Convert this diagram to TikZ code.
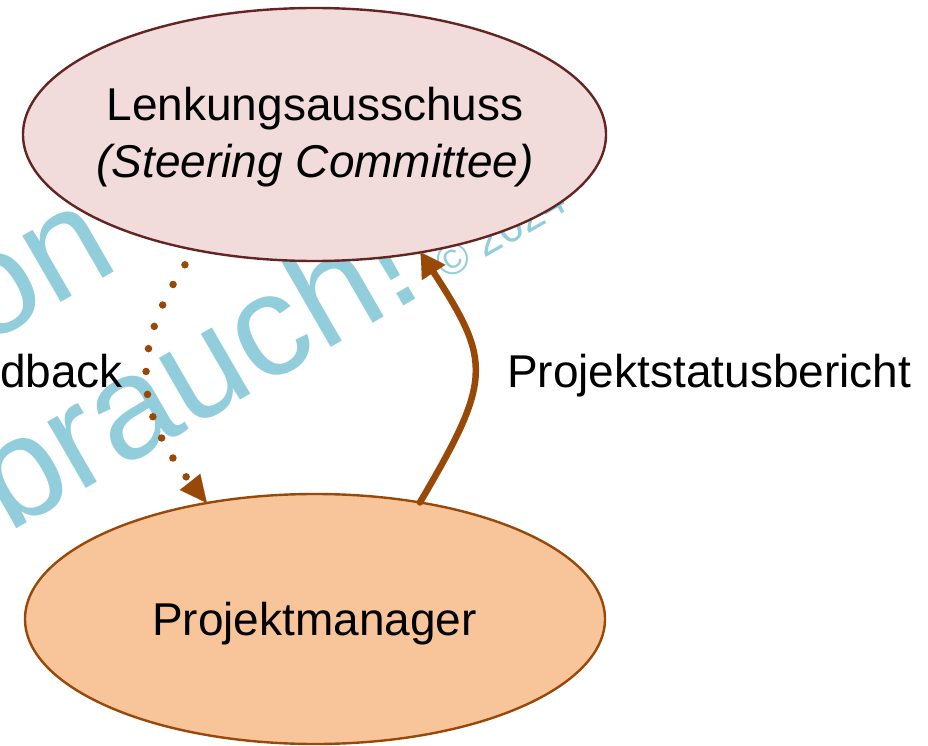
\documentclass[tikz,border=0pt]{standalone}
\usepackage{fontspec}
\setmainfont{Liberation Sans}
\usetikzlibrary{arrows.meta,shapes.geometric}
\definecolor{topfill}{HTML}{F2DCDB}
\definecolor{topline}{HTML}{632523}
\definecolor{botfill}{HTML}{F8C59A}
\definecolor{botline}{HTML}{984807}
\definecolor{arrowc}{HTML}{984807}
\definecolor{wmark}{HTML}{92CDDC}
\begin{document}
\begin{tikzpicture}[x=1pt,y=-1pt,
  ell/.style={ellipse, draw, line width=2.4pt, inner sep=0pt, outer sep=0pt},
  lbl/.style={inner sep=0pt, font=\fontsize{46}{57}\selectfont, anchor=base},
  wm/.style={inner sep=0pt, anchor=base west, rotate=30, text=wmark},
  wmbig/.style={wm, font=\fontsize{145}{174}\selectfont},
  wmsmall/.style={wm, font=\fontsize{44}{53}\selectfont},
  dotconn/.style={draw=arrowc, line width=7.5pt, line cap=round, dash pattern=on 0pt off 23pt, dash phase=5pt, -{Triangle[length=27pt,width=26pt,line width=0.1pt]}},
  solidconn/.style={draw=arrowc, line width=6.5pt, line cap=round, -{Triangle[length=24pt,width=28pt,line width=0.1pt]}}
]
\useasboundingbox (0,0) rectangle (928,746);
\clip (0,0) rectangle (928,746);
% watermark
\node[wmbig] (wm1) at (-17.5,347.8) {on};
\node[wmbig] (wm2) at (8,534) {brauch!};
\node[wmsmall] (wm3) at (446,281) {© 2024};
% ellipses
\node[ell, draw=topline, fill=topfill, minimum width=583pt, minimum height=253pt] (steer) at (314.5,134.5) {};
\node[ell, draw=botline, fill=botfill, minimum width=580pt, minimum height=250pt] (pm) at (315,619) {};
% connectors
\draw[dotconn] (steer.224) .. controls (128,345) and (133,410) .. (pm.133);
\draw[solidconn] (pm.48.5) .. controls (492,380) and (492,362) .. (steer.312);
% texts
\node[lbl] (t1) at (315,121) {Lenkungsausschuss};
\node[lbl] (t2) at (315,178) {\itshape (Steering Committee)};
\node[lbl] (t3) at (314.5,635) {Projektmanager};
\node[lbl, anchor=base west] (t4) at (507,387) {Projektstatusbericht};
\node[lbl, anchor=base east] (t5) at (123,387) {dback};
\end{tikzpicture}
\end{document}
